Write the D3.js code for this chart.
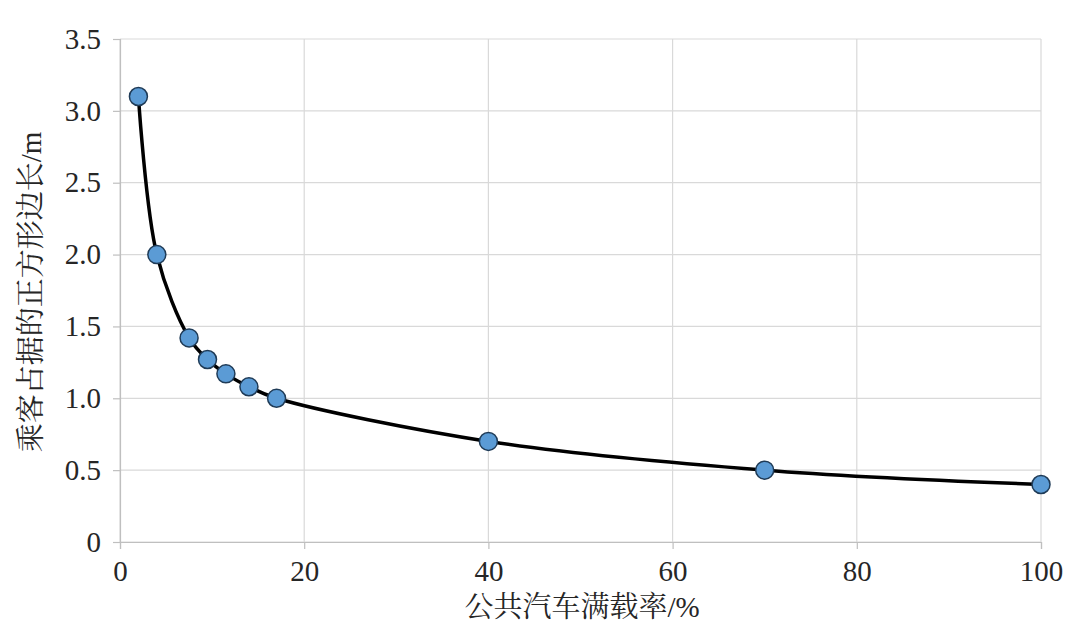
<!DOCTYPE html>
<html>
<head>
<meta charset="utf-8">
<script src="https://cdn.jsdelivr.net/npm/d3@7"></script>
<style>
  body { margin: 0; background: #fff; }
  svg { display: block; }
</style>
</head>
<body>
<svg id="chart" width="1080" height="628"></svg>
<script>
// load rate (%) vs side length of square occupied per passenger (m)
var loadRate = [2, 4, 7.5, 9.5, 11.5, 14, 17, 40, 70, 100];
var sideLen = [3.1, 2.0, 1.42, 1.27, 1.17, 1.08, 1.0, 0.7, 0.5, 0.4];
var xTicks = [0, 20, 40, 60, 80, 100];
var yTicks = [0, 0.5, 1.0, 1.5, 2.0, 2.5, 3.0, 3.5];

var points = loadRate.map(function (d, i) { return { x: d, y: sideLen[i] }; });

var svg = d3.select("#chart");
// note: "top" is taken by window.top, so use plot* names
var plotL = 120, plotR = 1041, plotT = 39, plotB = 542;

var x = d3.scaleLinear().domain([0, 100]).range([plotL, plotR]);
var y = d3.scaleLinear().domain([0, 3.5]).range([plotB, plotT]);

var serif = "Liberation Serif";
var cjk = "Noto Serif CJK SC";

// grid
svg.append("g")
    .selectAll("line")
    .data(yTicks)
    .enter().append("line")
    .attr("x1", plotL).attr("x2", plotR)
    .attr("y1", function (d) { return y(d); })
    .attr("y2", function (d) { return y(d); })
    .attr("stroke", "#d9d9d9").attr("stroke-width", 1.2);

svg.append("g")
    .selectAll("line")
    .data(xTicks)
    .enter().append("line")
    .attr("x1", function (d) { return x(d); })
    .attr("x2", function (d) { return x(d); })
    .attr("y1", plotT).attr("y2", plotB)
    .attr("stroke", "#d9d9d9").attr("stroke-width", 1.2);

// axes
var xAxis = svg.append("g")
    .attr("transform", "translate(0," + plotB + ")")
    .call(d3.axisBottom(x).tickValues(xTicks).tickSize(7).tickPadding(11).tickFormat(d3.format("d")));
var yAxis = svg.append("g")
    .attr("transform", "translate(" + plotL + ",0)")
    .call(d3.axisLeft(y).tickValues(yTicks).tickSize(7).tickPadding(12).tickFormat(function (d) { return d === 0 ? "0" : d3.format(".1f")(d); }));

[xAxis, yAxis].forEach(function (a) {
  a.attr("font-family", serif).attr("font-size", 29);
  a.select(".domain").attr("stroke", "#bfbfbf").attr("stroke-width", 1.2);
  a.selectAll(".tick line").attr("stroke", "#bfbfbf").attr("stroke-width", 1.2);
  a.selectAll(".tick text")
      .style("font-family", serif)
      .style("font-size", "29px")
      .attr("fill", "#262626");
});

// curve
var line = d3.line()
    .x(function (d) { return x(d.x); })
    .y(function (d) { return y(d.y); })
    .curve(d3.curveCatmullRom.alpha(0.5));

svg.append("path")
    .datum(points)
    .attr("d", line)
    .attr("fill", "none")
    .attr("stroke", "#000")
    .attr("stroke-width", 3.5);

svg.append("g")
    .selectAll("circle")
    .data(points)
    .enter().append("circle")
    .attr("cx", function (d) { return x(d.x); })
    .attr("cy", function (d) { return y(d.y); })
    .attr("r", 9)
    .attr("fill", "#5b9bd5")
    .attr("stroke", "#1f3b57")
    .attr("stroke-width", 1.5);

// axis titles (Chinese in a Song face, the "/%" "/m" in serif latin)
var xTitle = svg.append("text")
    .attr("x", 582)
    .attr("y", 617)
    .attr("text-anchor", "middle")
    .style("font-family", cjk)
    .style("font-size", "29px")
    .attr("fill", "#262626");
xTitle.append("tspan").text("公共汽车满载率");
xTitle.append("tspan").style("font-family", serif).text("/%");

var yTitle = svg.append("text")
    .attr("transform", "translate(41," + 292 + ") rotate(-90)")
    .attr("text-anchor", "middle")
    .style("font-family", cjk)
    .style("font-size", "29px")
    .attr("fill", "#262626");
yTitle.append("tspan").text("乘客占据的正方形边长");
yTitle.append("tspan").style("font-family", serif).text("/m");
</script>
</body>
</html>
